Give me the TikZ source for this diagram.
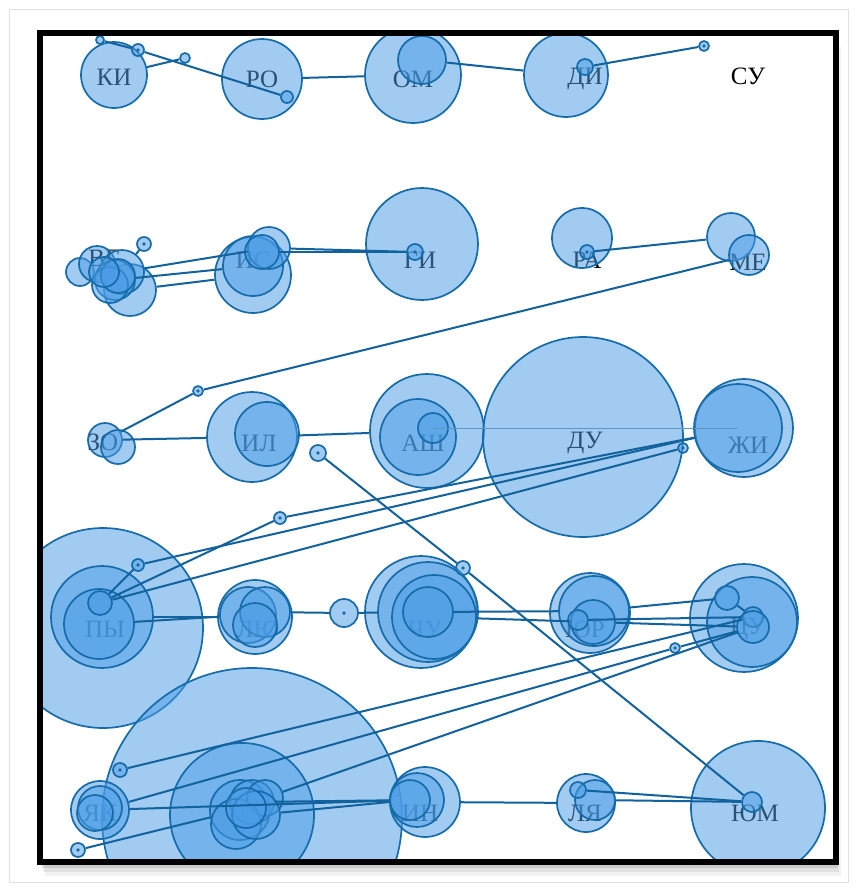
\documentclass[tikz,border=0pt]{standalone}
\usepackage{fontspec}
\setmainfont{Liberation Serif}
\definecolor{bubfill}{RGB}{75,157,230}
\definecolor{bubline}{RGB}{22,108,170}
\definecolor{linkblue}{RGB}{18,98,158}
\tikzset{
  bub/.style={circle, draw=bubline, fill=bubfill, fill opacity=0.52, line width=1.7pt, inner sep=0pt, minimum size=#1},
  link/.style={draw=linkblue, line width=2pt},
  faint/.style={draw=bubline!70, line width=1pt},
  lbl/.style={font=\fontsize{25}{28}\selectfont, text=black}
}
\begin{document}
\begin{tikzpicture}[x=1pt,y=-1pt]
    \useasboundingbox (0,0) rectangle (856,889);
    % page edge and shadow of the frame
    \draw[black!12, line width=0.8pt] (9,9) rectangle (848,882);
    \foreach \s/\o in {14/0.05,10/0.07,6/0.1,3/0.15}
        \fill[black, opacity=\o] (40+\s/3,33+\s) rectangle (836+\s/3,862+\s);
    \fill[white] (40,33) rectangle (836,862);
    \begin{scope}
        \clip (40,33) rectangle (836,862);
        % Labels, under the bubbles.
        \node[lbl] (tKI) at (114,77) {КИ};
        \node[lbl] (tRO) at (262,79) {РО};
        \node[lbl] (tOM) at (413,79) {ОМ};
        \node[lbl] (tDI) at (585,79) {ДИ};
        \node[lbl] (tSU) at (748,76) {СУ};
        \node[lbl] (tVG) at (104,258) {ВГ};
        \node[lbl] (tIS) at (253,260) {ИС};
        \node[lbl] (tGI) at (420,260) {ГИ};
        \node[lbl] (tRA) at (587,260) {РА};
        \node[lbl] (tME) at (748,262) {МЕ};
        \node[lbl] (tZO) at (103,442) {ЗО};
        \node[lbl] (tIL) at (259,443) {ИЛ};
        \node[lbl] (tASH) at (423,443) {АШ};
        \node[lbl] (tDU) at (585,443) {ДУ};
        \node[lbl] (tZH) at (748,445) {ЖИ};
        \node[lbl] (tPY) at (105,629) {ПЫ};
        \node[lbl] (tLYU) at (258,629) {ЛЮ};
        \node[lbl] (tCHU) at (425,629) {ЧУ};
        \node[lbl] (tYUR) at (585,629) {ЮР};
        \node[lbl] (tCU) at (748,629) {ЦУ};
        \node[lbl] (tYK) at (100,813) {ЯК};
        \node[lbl] (tTE) at (250,813) {ТЕ};
        \node[lbl] (tIN) at (420,813) {ИН};
        \node[lbl] (tLYA) at (585,813) {ЛЯ};
        \node[lbl] (tYUM) at (755,813) {ЮМ};

        % Row 1
        \node[bub=66pt] (kiA) at (114,75) {};
        \node[bub=80pt] (roA) at (262,79) {};
        \node[bub=96pt] (omA) at (413,75) {};
        \node[bub=48pt] (omB) at (422,60) {};
        \node[bub=84pt] (diA) at (566,75) {};
        \node[bub=16pt] (diB) at (585,67) {};
        \node[bub=8pt] (kiP) at (100,40) {};
        \node[bub=12pt] (kiQ) at (138,50) {};
        \node[bub=10pt] (kiR) at (185,58) {};
        \node[bub=12pt] (roP) at (287,97) {};
        \node[bub=10pt] (suP) at (704,46) {};
        % Row 2
        \node[bub=28pt] (vgA) at (80,272) {};
        \node[bub=36pt] (vgB) at (97,264) {};
        \node[bub=52pt] (vgE) at (130,290) {};
        \node[bub=44pt] (vgD) at (122,272) {};
        \node[bub=40pt] (vgC) at (115,280) {};
        \node[bub=36pt] (vgF) at (110,285) {};
        \node[bub=34pt] (vgG) at (118,276) {};
        \node[bub=30pt] (vgH) at (104,272) {};
        \node[bub=14pt] (vgP) at (144,244) {};
        \node[bub=76pt] (isA) at (253,275) {};
        \node[bub=60pt] (isB) at (253,266) {};
        \node[bub=42pt] (isC) at (269,248) {};
        \node[bub=34pt] (isD) at (262,252) {};
        \node[bub=112pt] (giA) at (422,244) {};
        \node[bub=16pt] (giP) at (415,252) {};
        \node[bub=60pt] (raA) at (582,238) {};
        \node[bub=14pt] (raP) at (587,252) {};
        \node[bub=48pt] (meA) at (731,237) {};
        \node[bub=40pt] (meB) at (749,255) {};
        \node[bub=10pt] (meQ) at (198,391) {};
        % Row 3
        \node[bub=34pt] (zoA) at (105,440) {};
        \node[bub=34pt] (zoB) at (118,447) {};
        \node[bub=90pt] (ilA) at (252,437) {};
        \node[bub=64pt] (ilB) at (267,434) {};
        \node[bub=16pt] (ilP) at (318,453) {};
        \node[bub=114pt] (ashA) at (427,431) {};
        \node[bub=76pt] (ashB) at (418,437) {};
        \node[bub=30pt] (ashC) at (433,428) {};
        \node[bub=200pt] (duA) at (583,437) {};
        \node[bub=98pt] (zhA) at (744,428) {};
        \node[bub=88pt] (zhB) at (738,428) {};
        \node[bub=10pt] (zhP) at (683,448) {};
        % Row 4
        \node[bub=200pt] (pyA) at (103,628) {};
        \node[bub=102pt] (pyB) at (102,617) {};
        \node[bub=70pt] (pyC) at (99,624) {};
        \node[bub=24pt] (pyP) at (100,603) {};
        \node[bub=12pt] (pyQ) at (138,565) {};
        \node[bub=12pt] (pyR) at (280,518) {};
        \node[bub=74pt] (lyuA) at (255,617) {};
        \node[bub=56pt] (lyuB) at (248,615) {};
        \node[bub=50pt] (lyuC) at (265,612) {};
        \node[bub=44pt] (lyuD) at (255,625) {};
        \node[bub=28pt] (midP) at (344,613) {};
        \node[bub=112pt] (chuA) at (421,612) {};
        \node[bub=100pt] (chuB) at (428,612) {};
        \node[bub=84pt] (chuC) at (434,617) {};
        \node[bub=50pt] (chuD) at (428,612) {};
        \node[bub=14pt] (chuP) at (463,568) {};
        \node[bub=80pt] (yurA) at (590,613) {};
        \node[bub=70pt] (yurB) at (594,611) {};
        \node[bub=44pt] (yurC) at (593,622) {};
        \node[bub=20pt] (yurD) at (578,620) {};
        \node[bub=108pt] (cuA) at (744,618) {};
        \node[bub=90pt] (cuB) at (752,622) {};
        \node[bub=24pt] (cuC) at (727,598) {};
        \node[bub=20pt] (cuD) at (753,617) {};
        \node[bub=32pt] (cuE) at (753,627) {};
        \node[bub=10pt] (cuP) at (675,648) {};
        % Row 5
        \node[bub=300pt] (bgA) at (252,818) {};
        \node[bub=144pt] (bgB) at (242,815) {};
        \node[bub=60pt] (bgC) at (240,810) {};
        \node[bub=44pt] (bgD) at (252,802) {};
        \node[bub=36pt] (bgE) at (265,798) {};
        \node[bub=50pt] (bgF) at (236,824) {};
        \node[bub=48pt] (bgG) at (256,815) {};
        \node[bub=40pt] (bgH) at (246,808) {};
        \node[bub=58pt] (ykA) at (100,810) {};
        \node[bub=44pt] (ykB) at (100,808) {};
        \node[bub=36pt] (ykC) at (95,813) {};
        \node[bub=14pt] (ykP) at (120,770) {};
        \node[bub=14pt] (ykQ) at (78,850) {};
        \node[bub=70pt] (inA) at (425,802) {};
        \node[bub=54pt] (inB) at (417,800) {};
        \node[bub=40pt] (inC) at (410,800) {};
        \node[bub=58pt] (lyaA) at (586,803) {};
        \node[bub=40pt] (lyaC) at (595,800) {};
        \node[bub=16pt] (lyaB) at (578,790) {};
        \node[bub=134pt] (yumA) at (758,808) {};
        \node[bub=20pt] (yumB) at (752,802) {};

        \foreach \d in {kiQ,suP,vgP,giP,raP,meQ,ilP,zhP,pyQ,pyR,midP,chuP,cuP,ykP,ykQ}
            \fill[bubline] (\d.center) circle (1.8pt);

        % Connectors.
        \draw[link] (kiP) -- (kiQ) -- (roP);
        \draw[link] (kiA) -- (kiR);
        \draw[link] (roA) -- (omA);
        \draw[link] (omB) -- (diA);
        \draw[link] (diB) -- (suP);
        \draw[link] (vgP) -- (vgD);
        \draw[link] (vgC) -- (isB);
        \draw[link] (vgD) -- (isC);
        \draw[link] (vgE) -- (isA);
        \draw[link] (isC) -- (giP);
        \draw[link] (isD) -- (giP);
        \draw[link] (raP) -- (meA);
        \draw[link] (meB) -- (meQ) -- (zoA);
        \draw[link] (zoA) -- (ilA);
        \draw[link] (ilA) -- (ashA);
        \draw[faint] (ashC.center) -- (zhB.center);
        \draw[link] (ilP) -- (chuP) -- (yumB);
        \draw[link] (pyP) -- (pyQ);
        \draw[link] (pyQ) -- (zhB);
        \draw[link] (pyP) -- (pyR) -- (zhA);
        \draw[link] (pyP) -- (zhP);
        \draw[link] (pyB) -- (lyuA);
        \draw[link] (pyC) -- (lyuB);
        \draw[link] (lyuC) -- (midP) -- (chuB);
        \draw[link] (chuD) -- (yurB);
        \draw[link] (chuC) -- (yurC);
        \draw[link] (yurB) -- (cuC);
        \draw[link] (yurD) -- (cuD);
        \draw[link] (yurC) -- (cuE);
        \draw[link] (cuC) -- (cuD);
        \draw[link] (ykP) -- (cuD);
        \draw[link] (ykA) -- (cuP);
        \draw[link] (cuP) -- (cuE);
        \draw[link] (bgE) -- (cuE);
        \draw[link] (ykQ) -- (bgC);
        \draw[link] (ykA) -- (inC);
        \draw[link] (bgD) -- (inB);
        \draw[link] (bgG) -- (inC);
        \draw[link] (inA) -- (lyaA);
        \draw[link] (lyaB) -- (yumB);
        \draw[link] (lyaC) -- (yumB);
    \end{scope}
    % Frame.
    \draw[line width=6pt] (40,33) rectangle (836,862);
\end{tikzpicture}
\end{document}
